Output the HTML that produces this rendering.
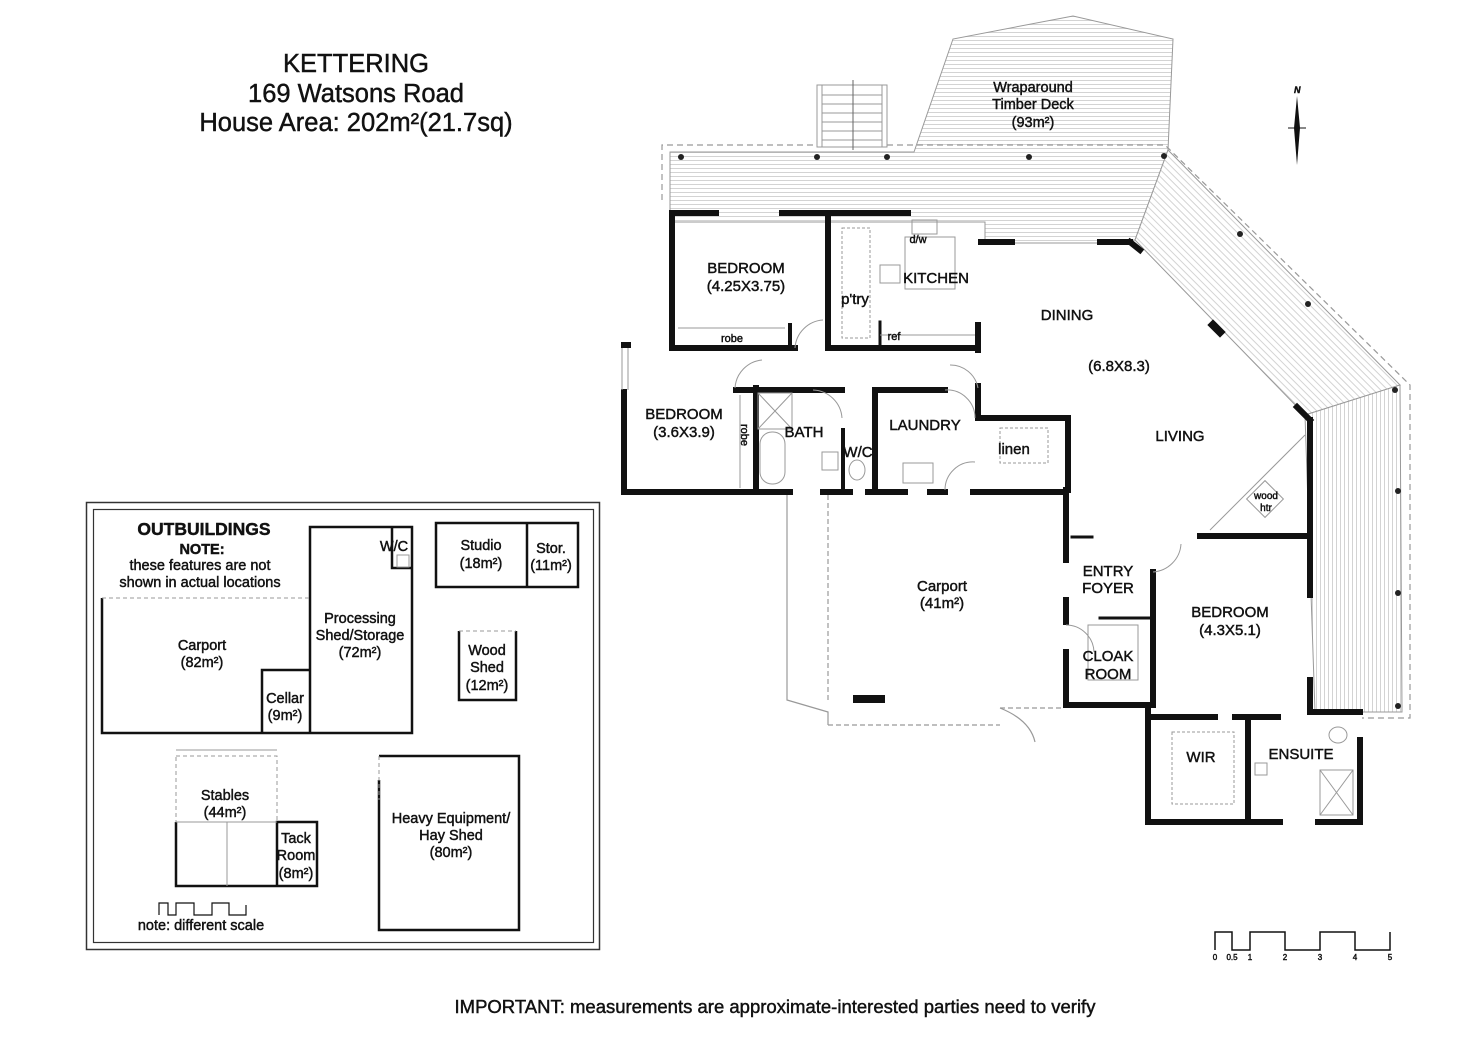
<!DOCTYPE html>
<html><head><meta charset="utf-8"><style>
html,body{margin:0;padding:0;background:#fff}
svg{display:block}
text{font-family:"Liberation Sans","DejaVu Sans",sans-serif;fill:#111;stroke:#111;stroke-width:0.45}
</style></head><body>
<svg width="1472" height="1040" viewBox="0 0 1472 1040" xmlns="http://www.w3.org/2000/svg">
<defs>
<pattern id="hz" width="6" height="4" patternUnits="userSpaceOnUse"><rect width="6" height="4" fill="#fff"/><line x1="0" y1="0.5" x2="6" y2="0.5" stroke="#c8c8c8" stroke-width="0.8"/></pattern>
<pattern id="vt" width="4" height="6" patternUnits="userSpaceOnUse"><rect width="4" height="6" fill="#fff"/><line x1="0.5" y1="0" x2="0.5" y2="6" stroke="#c8c8c8" stroke-width="0.8"/></pattern>
<pattern id="dg" width="5" height="5" patternUnits="userSpaceOnUse" patternTransform="rotate(-45)"><rect width="5" height="5" fill="#fff"/><line x1="0.5" y1="0" x2="0.5" y2="5" stroke="#c8c8c8" stroke-width="0.8"/></pattern>
</defs>

<!-- Title -->
<g font-size="25.5" text-anchor="middle">
<text x="356" y="72">KETTERING</text>
<text x="356" y="102">169 Watsons Road</text>
<text x="356" y="131">House Area: 202m²(21.7sq)</text>
</g>

<!-- Deck -->
<polygon points="670,152 914,152 953,39 1073,16 1173,39 1168,150 1135,240 1105,243 985,243 985,222 670,222" fill="url(#hz)" stroke="#999" stroke-width="1"/>
<polygon points="1168,150 1400,385 1305,415 1135,240" fill="url(#dg)" stroke="#999" stroke-width="1"/>
<polygon points="1305,415 1400,385 1402,712 1315,712" fill="url(#vt)" stroke="#999" stroke-width="1"/>
<polyline points="662,200 662,145 1165,145 1410,385 1410,718 1362,718" fill="none" stroke="#999" stroke-width="1.2" stroke-dasharray="6,4"/>
<!-- stairs -->
<rect x="817" y="85" width="70" height="62" fill="#fff" stroke="#999"/>
<rect x="822" y="85" width="60" height="62" fill="none" stroke="#999"/>
<g stroke="#999"><line x1="822" y1="95" x2="882" y2="95"/><line x1="822" y1="104" x2="882" y2="104"/><line x1="822" y1="113" x2="882" y2="113"/><line x1="822" y1="122" x2="882" y2="122"/><line x1="822" y1="131" x2="882" y2="131"/><line x1="822" y1="140" x2="882" y2="140"/></g>
<line x1="853" y1="80" x2="853" y2="150" stroke="#666"/>
<g fill="#222"><circle cx="681" cy="157" r="3"/><circle cx="817" cy="157" r="3"/><circle cx="887" cy="157" r="3"/><circle cx="1029" cy="157" r="3"/><circle cx="1164" cy="156" r="3"/><circle cx="1240" cy="234" r="3"/><circle cx="1308" cy="304" r="3"/><circle cx="1395" cy="390" r="3"/><circle cx="1398" cy="491" r="3"/><circle cx="1398" cy="593" r="3"/><circle cx="1398" cy="706" r="3"/></g>
<g font-size="14.5" text-anchor="middle"><text x="1033" y="92">Wraparound</text><text x="1033" y="109">Timber Deck</text><text x="1033" y="127">(93m²)</text></g>

<!-- North arrow -->
<text x="1294" y="93" font-size="9" font-style="italic" font-weight="bold">N</text>
<polygon points="1297,96 1300,128 1297,165 1294,128" fill="#111"/>
<line x1="1288" y1="128" x2="1306" y2="128" stroke="#111"/>

<!-- Carport thin -->
<g fill="none" stroke="#999" stroke-width="1.2">
<polyline points="787,495 787,700 828,712 828,725"/>
<path d="M1000,708 Q1030,720 1035,742"/>
<line x1="828" y1="725" x2="1000" y2="725" stroke-dasharray="5,3"/>
<line x1="1000" y1="708" x2="1063" y2="708" stroke-dasharray="5,3"/>
<line x1="828" y1="495" x2="828" y2="700" stroke-dasharray="5,3"/>
</g>
<rect x="853" y="695" width="32" height="8" fill="#111"/>

<!-- Walls -->
<g stroke="#111" stroke-width="6" fill="none" stroke-linecap="square">
<line x1="672" y1="213" x2="716" y2="213"/><line x1="782" y1="213" x2="908" y2="213"/>
<line x1="672" y1="213" x2="672" y2="348"/>
<line x1="672" y1="348" x2="795" y2="348"/>
<line x1="828" y1="215" x2="828" y2="348"/>
<line x1="828" y1="348" x2="978" y2="348"/>
<line x1="978" y1="325" x2="978" y2="350"/>
<line x1="880" y1="322" x2="880" y2="348" stroke-width="3"/>
<line x1="790" y1="325" x2="790" y2="346" stroke-width="4"/>
<line x1="981" y1="242" x2="1012" y2="242"/>
<line x1="1100" y1="242" x2="1130" y2="242"/>
<line x1="1130" y1="242" x2="1140" y2="250"/>
<line x1="1297" y1="407" x2="1310" y2="420"/>
<line x1="1213" y1="325" x2="1220" y2="332" stroke-width="8"/>
<line x1="1310" y1="420" x2="1310" y2="595"/>
<line x1="1310" y1="680" x2="1310" y2="712"/>
<line x1="624" y1="345" x2="628" y2="345"/>
<line x1="624" y1="392" x2="624" y2="492"/>
<line x1="624" y1="492" x2="790" y2="492"/>
<line x1="823" y1="492" x2="850" y2="492"/>
<line x1="868" y1="492" x2="905" y2="492"/>
<line x1="930" y1="492" x2="945" y2="492"/>
<line x1="973" y1="492" x2="1066" y2="492"/>
<line x1="736" y1="390" x2="842" y2="390"/>
<line x1="756" y1="388" x2="756" y2="490"/>
<line x1="875" y1="390" x2="945" y2="390"/>
<line x1="875" y1="390" x2="875" y2="490"/>
<line x1="978" y1="386" x2="978" y2="418"/>
<line x1="978" y1="418" x2="1068" y2="418"/>
<line x1="1068" y1="418" x2="1068" y2="490"/>
<line x1="843" y1="430" x2="843" y2="490" stroke-width="4"/>
<line x1="1066" y1="490" x2="1066" y2="560"/>
<line x1="1066" y1="600" x2="1066" y2="622"/>
<line x1="1066" y1="652" x2="1066" y2="705"/>
<line x1="1066" y1="705" x2="1150" y2="705"/>
<line x1="1200" y1="536" x2="1310" y2="536"/>
<line x1="1072" y1="537" x2="1092" y2="537" stroke-width="3"/>
<line x1="1153" y1="572" x2="1153" y2="705"/>
<line x1="1100" y1="618" x2="1150" y2="618" stroke-width="3"/>
<line x1="1148" y1="705" x2="1148" y2="822"/>
<line x1="1148" y1="822" x2="1280" y2="822"/>
<line x1="1318" y1="822" x2="1360" y2="822"/>
<line x1="1360" y1="740" x2="1360" y2="822"/>
<line x1="1310" y1="712" x2="1360" y2="712"/>
<line x1="1153" y1="717" x2="1215" y2="717"/>
<line x1="1235" y1="717" x2="1278" y2="717"/>
<line x1="1248" y1="717" x2="1248" y2="822"/>
</g>
<!-- fixtures -->
<g fill="none" stroke="#999" stroke-width="1">
<line x1="678" y1="328" x2="785" y2="328"/>
<rect x="842" y="228" width="28" height="110" stroke-dasharray="3,2"/>
<rect x="905" y="237" width="50" height="52"/>
<rect x="912" y="220" width="25" height="14"/>
<rect x="880" y="265" width="20" height="18"/>
<line x1="880" y1="335" x2="975" y2="335"/>
<rect x="758" y="393" width="34" height="36"/><line x1="758" y1="393" x2="792" y2="429"/><line x1="792" y1="393" x2="758" y2="429"/>
<rect x="760" y="432" width="25" height="52" rx="12"/>
<rect x="822" y="452" width="16" height="18"/>
<ellipse cx="857" cy="470" rx="8" ry="10"/>
<rect x="903" y="463" width="30" height="20"/>
<rect x="1000" y="428" width="48" height="35" stroke-dasharray="3,2"/>
<line x1="740" y1="395" x2="740" y2="488"/>
<line x1="1210" y1="530" x2="1305" y2="435"/>
<rect x="1252" y="486" width="26" height="26" transform="rotate(45 1265 499)"/>
<rect x="1088" y="625" width="50" height="55"/>
<rect x="1172" y="732" width="62" height="72" stroke-dasharray="3,2"/>
<rect x="1320" y="770" width="33" height="45"/><line x1="1320" y1="770" x2="1353" y2="815"/><line x1="1353" y1="770" x2="1320" y2="815"/>
<ellipse cx="1338" cy="735" rx="9" ry="8"/>
<rect x="1255" y="763" width="12" height="12"/>
<path d="M735,388 A30,30 0 0 1 762,360"/>
<path d="M795,348 A30,30 0 0 1 823,320"/>
<path d="M950,365 A28,28 0 0 1 978,388"/>
<path d="M945,390 A28,28 0 0 1 975,418"/>
<path d="M813,390 A30,30 0 0 1 842,418"/>
<path d="M945,490 A28,28 0 0 1 975,462"/>
<path d="M1153,572 A30,30 0 0 0 1181,544"/>
<path d="M1066,625 A28,28 0 0 1 1094,652"/>
<line x1="628" y1="348" x2="628" y2="390"/><line x1="622" y1="348" x2="622" y2="390"/>
</g>

<!-- House labels -->
<g font-size="15" text-anchor="middle">
<text x="746" y="273">BEDROOM</text><text x="746" y="291">(4.25X3.75)</text>
<text x="732" y="342" font-size="11">robe</text>
<text x="855" y="304">p'try</text>
<text x="918" y="243" font-size="11">d/w</text>
<text x="936" y="283">KITCHEN</text>
<text x="894" y="340" font-size="11">ref</text>
<text x="1067" y="320">DINING</text>
<text x="1119" y="371">(6.8X8.3)</text>
<text x="1180" y="441">LIVING</text>
<text x="684" y="419">BEDROOM</text><text x="684" y="437">(3.6X3.9)</text>
<text x="804" y="437">BATH</text>
<text x="858" y="457">W/C</text>
<text x="925" y="430">LAUNDRY</text>
<text x="1014" y="454">linen</text>
<text x="1266" y="499" font-size="10">wood</text><text x="1266" y="511" font-size="10">htr</text>
<text x="1108" y="576">ENTRY</text><text x="1108" y="593">FOYER</text>
<text x="942" y="591">Carport</text><text x="942" y="608">(41m²)</text>
<text x="1108" y="661">CLOAK</text><text x="1108" y="679">ROOM</text>
<text x="1230" y="617">BEDROOM</text><text x="1230" y="635">(4.3X5.1)</text>
<text x="1201" y="762">WIR</text>
<text x="1301" y="759">ENSUITE</text>
</g>
<text x="0" y="0" font-size="11" transform="translate(741,424) rotate(90)">robe</text>

<!-- Outbuildings -->
<rect x="86.5" y="502.5" width="513" height="447" fill="none" stroke="#333" stroke-width="1.5"/>
<rect x="93.5" y="509.5" width="500" height="433" fill="none" stroke="#333" stroke-width="1.2"/>
<g fill="none" stroke="#111" stroke-width="2.5">
<polyline points="102,598 102,733 412,733 412,527 310,527 310,733"/>
<polyline points="392,527 392,568 412,568"/>
<polyline points="262,733 262,670 310,670"/>
<rect x="436" y="523" width="142" height="64"/>
<line x1="527" y1="523" x2="527" y2="587"/>
<polyline points="459,631 459,700 516,700 516,631"/>
<polyline points="176,822 176,886 317,886 317,822 277,822 277,886"/>
<polyline points="379,780 379,930 519,930 519,756 379,756"/>
</g>
<g fill="none" stroke="#999" stroke-width="1">
<line x1="102" y1="598" x2="310" y2="598" stroke-dasharray="4,3"/>
<line x1="459" y1="631" x2="516" y2="631" stroke-dasharray="4,3"/>
<rect x="176" y="756" width="101" height="66" stroke-dasharray="4,3"/>
<line x1="176" y1="750" x2="277" y2="750"/>
<line x1="176" y1="822" x2="277" y2="822"/>
<line x1="227" y1="822" x2="227" y2="886"/>
<line x1="379" y1="756" x2="379" y2="800" stroke-dasharray="4,3"/>
<rect x="397" y="555" width="12" height="12"/>
</g>
<g text-anchor="middle" font-size="14.5">
<text x="204" y="535" font-size="17.5" font-weight="bold">OUTBUILDINGS</text>
<text x="202" y="554" font-weight="bold">NOTE:</text>
<text x="200" y="570">these features are not</text>
<text x="200" y="587">shown in actual locations</text>
<text x="202" y="650">Carport</text><text x="202" y="667">(82m²)</text>
<text x="360" y="623">Processing</text><text x="360" y="640">Shed/Storage</text><text x="360" y="657">(72m²)</text>
<text x="394" y="551">W/C</text>
<text x="285" y="703">Cellar</text><text x="285" y="720">(9m²)</text>
<text x="481" y="550">Studio</text><text x="481" y="568">(18m²)</text>
<text x="551" y="553">Stor.</text><text x="551" y="570">(11m²)</text>
<text x="487" y="655">Wood</text><text x="487" y="672">Shed</text><text x="487" y="690">(12m²)</text>
<text x="225" y="800">Stables</text><text x="225" y="817">(44m²)</text>
<text x="296" y="843">Tack</text><text x="296" y="860">Room</text><text x="296" y="878">(8m²)</text>
<text x="451" y="823">Heavy Equipment/</text><text x="451" y="840">Hay Shed</text><text x="451" y="857">(80m²)</text>
<text x="201" y="930">note: different scale</text>
</g>
<polyline points="159,915 159,903 168,903 168,915 176,915 176,903 194,903 194,915 212,915 212,903 229,903 229,915 246,915 246,905" fill="none" stroke="#111" stroke-width="1.2"/>

<!-- Scale bar -->
<polyline points="1215,950 1215,932 1232,932 1232,950 1250,950 1250,932 1285,932 1285,950 1320,950 1320,932 1355,932 1355,950 1390,950 1390,932" fill="none" stroke="#111" stroke-width="1.5"/>
<g font-size="8" text-anchor="middle"><text x="1215" y="960">0</text><text x="1232" y="960">0.5</text><text x="1250" y="960">1</text><text x="1285" y="960">2</text><text x="1320" y="960">3</text><text x="1355" y="960">4</text><text x="1390" y="960">5</text></g>

<text x="775" y="1013" font-size="18.5" text-anchor="middle">IMPORTANT: measurements are approximate-interested parties need to verify</text>
</svg>
</body></html>
